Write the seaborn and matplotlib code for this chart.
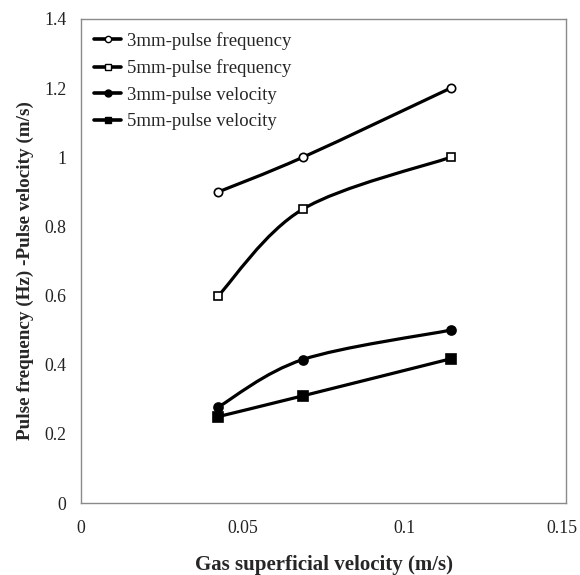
import matplotlib
matplotlib.use("Agg")
import matplotlib.pyplot as plt
import matplotlib.transforms as mtransforms
from matplotlib.path import Path
from matplotlib.patches import PathPatch
from matplotlib.lines import Line2D
import numpy as np
import pandas as pd
import seaborn as sns

# ---- data ----
gas_velocity = [0.0425, 0.0686, 0.1143]
freq_3mm = [0.90, 1.00, 1.20]
freq_5mm = [0.60, 0.85, 1.00]
vel_3mm = [0.278, 0.415, 0.50]
vel_5mm = [0.25, 0.31, 0.417]
series_names = ["3mm-pulse frequency", "5mm-pulse frequency",
                "3mm-pulse velocity", "5mm-pulse velocity"]
x_ticks = [0, 0.05, 0.1, 0.15]
x_tick_labels = ["0", "0.05", "0.1", "0.15"]
y_ticks = [0, 0.2, 0.4, 0.6, 0.8, 1.0, 1.2, 1.4]
y_tick_labels = ["0", "0.2", "0.4", "0.6", "0.8", "1", "1.2", "1.4"]

sns.set_theme(style="white")
plt.rcParams["font.family"] = ["Liberation Serif", "DejaVu Serif"]

fig = plt.figure(figsize=(5.8, 5.75), dpi=100)
ax = fig.add_axes([0.1397, 0.1252, 0.9759 - 0.1397, 0.967 - 0.1252])

styles = [
    dict(marker="o", mfc="white", ms=6.0, lms=4.5),
    dict(marker="s", mfc="white", ms=6.0, lms=4.5),
    dict(marker="o", mfc="black", ms=6.5, lms=5.0),
    dict(marker="s", mfc="black", ms=6.5, lms=5.0),
]
ys = [freq_3mm, freq_5mm, vel_3mm, vel_5mm]


def smooth_path(xs, yv):
    pts = np.column_stack([xs, yv])
    n = len(pts)
    verts = [tuple(pts[0])]
    codes = [Path.MOVETO]
    for i in range(n - 1):
        p0 = pts[max(i - 1, 0)]
        p1 = pts[i]
        p2 = pts[i + 1]
        p3 = pts[min(i + 2, n - 1)]
        c1 = p1 + (p2 - p0) / 6.0
        c2 = p2 - (p3 - p1) / 6.0
        verts += [tuple(c1), tuple(c2), tuple(p2)]
        codes += [Path.CURVE4] * 3
    return Path(verts, codes)


handles = []
for name, yv, st in zip(series_names, ys, styles):
    patch = PathPatch(smooth_path(gas_velocity, yv), facecolor="none",
                      edgecolor="black", lw=2.3, capstyle="round", zorder=2)
    ax.add_patch(patch)
    df = pd.DataFrame({"x": gas_velocity, "y": yv})
    ax.plot(df["x"], df["y"], linestyle="none", marker=st["marker"],
            ms=st["ms"], mfc=st["mfc"], mec="black", mew=1.2, zorder=3)
    handles.append(Line2D([0], [0], color="black", lw=2.6, marker=st["marker"],
                          ms=st["lms"], mfc=st["mfc"], mec="black", mew=1.0))

ax.set_xlim(0, 0.15)
ax.set_ylim(0, 1.4)
ax.set_xticks(x_ticks)
ax.set_xticklabels(x_tick_labels)
ax.set_yticks(y_ticks)
ax.set_yticklabels(y_tick_labels)

for sp in ax.spines.values():
    sp.set_color("#8a8a8a")
    sp.set_linewidth(1.0)
ax.tick_params(axis="both", direction="out", length=5, width=1.0,
               color="#8a8a8a", labelsize=12.8, labelcolor="#222222")
ax.tick_params(axis="y", pad=5.5)
ax.tick_params(axis="x", pad=7)

# keep the last x tick label inside the canvas
last = ax.get_xticklabels()[-1]
last.set_transform(last.get_transform() +
                   mtransforms.ScaledTranslation(-4 / 100, 0, fig.dpi_scale_trans))

ax.set_xlabel("Gas superficial velocity (m/s)", fontsize=15,
              fontweight="bold")
ax.xaxis.set_label_coords(0.5, -(555 - 503) / 484)
ax.set_ylabel("Pulse frequency (Hz) -Pulse velocity (m/s)", fontsize=13.8,
              fontweight="bold")
ax.yaxis.set_label_coords(-(81 - 34) / 485, (503 - 271) / 484)

leg = ax.legend(handles, series_names, loc="upper left", frameon=False,
                fontsize=13.5, handlelength=1.45, handletextpad=0.3,
                labelspacing=0.5, bbox_to_anchor=(0.0, 1.0),
                borderaxespad=0.35, borderpad=0.35)

fig.savefig("out.png", dpi=100)
